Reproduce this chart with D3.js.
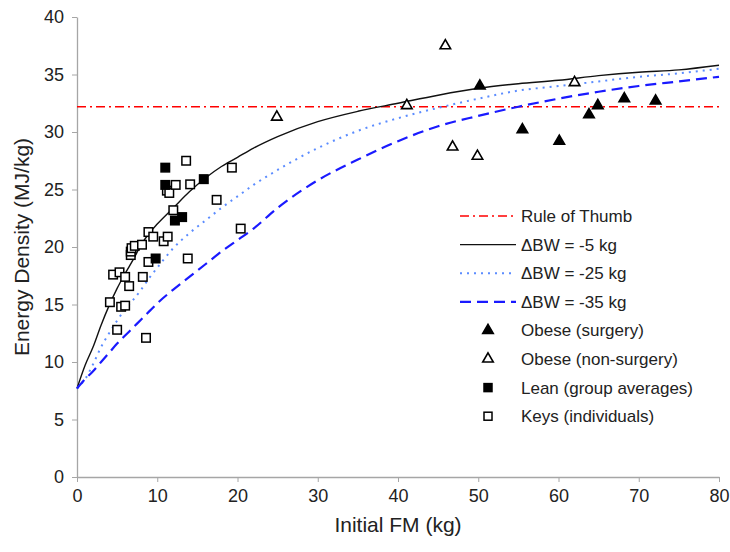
<!DOCTYPE html>
<html>
<head>
<meta charset="utf-8">
<script src="https://cdn.jsdelivr.net/npm/d3@7"></script>
<style>
  body { margin: 0; background: #fff; }
  svg { font-family: "Liberation Sans", Arial, sans-serif; }
</style>
</head>
<body>
<svg width="730" height="552"></svg>
<script>
// curves: energy density of lost tissue vs initial fat mass
const fm =    [0, 1, 2, 3, 4, 5, 6, 7, 8, 9, 10, 12, 14, 16, 18, 20, 22, 25, 30, 35, 40, 45, 50, 55, 60, 65, 70, 75, 80];
const bw5 =   [7.7, 9.7, 11.3, 13.2, 14.9, 16.4, 17.7, 18.9, 20.2, 21.2, 22.0, 23.4, 24.8, 26.0, 27.0, 27.8, 28.6, 29.6, 30.9, 31.8, 32.5, 33.2, 33.8, 34.2, 34.5, 34.9, 35.2, 35.4, 35.8];
const bw25 =  [7.7, 8.5, 9.8, 11.3, 12.5, 13.6, 14.6, 15.4, 16.3, 17.3, 18.2, 19.9, 21.2, 22.3, 23.4, 24.4, 25.4, 26.7, 28.6, 30.1, 31.2, 32.1, 32.9, 33.6, 34.0, 34.4, 34.8, 35.1, 35.5];
const bw35 =  [7.7, 8.5, 9.2, 10.0, 10.8, 11.6, 12.3, 13.0, 13.7, 14.4, 15.1, 16.3, 17.4, 18.5, 19.6, 20.6, 21.6, 23.4, 25.8, 27.6, 29.2, 30.5, 31.4, 32.2, 32.9, 33.5, 34.0, 34.4, 34.8];
const ruleOfThumb = 32.2;

// observations [FM, energy density]
const obeseSurgery = [[50.2, 34.0], [55.5, 30.2], [60.1, 29.2], [63.8, 31.5], [64.9, 32.3], [68.2, 32.9], [72.1, 32.7]];
const obeseNonSurgery = [[24.9, 31.3], [41.1, 32.3], [45.9, 37.5], [46.8, 28.7], [49.9, 27.9], [62.0, 34.3]];
const lean = [[9.8, 19.0], [11.0, 26.9], [11.0, 25.4], [12.2, 22.3], [13.1, 22.6], [15.8, 25.9]];
const keys = [[4.1, 15.2], [4.5, 17.6], [5.0, 12.8], [5.3, 17.8], [5.5, 14.8], [6.0, 14.9], [6.0, 17.4],
  [6.5, 16.6], [6.7, 19.3], [6.7, 19.6], [6.8, 19.9], [7.2, 20.1], [8.1, 20.2], [8.2, 17.4], [8.6, 12.1],
  [8.9, 18.7], [8.9, 21.3], [9.5, 20.9], [10.8, 20.5], [11.3, 20.9], [11.2, 24.9], [11.5, 24.7],
  [12.0, 23.2], [12.3, 25.4], [13.6, 27.5], [13.8, 19.0], [14.1, 25.45], [17.4, 24.1], [19.3, 26.9], [20.4, 21.6]];

const xTicks = [0, 10, 20, 30, 40, 50, 60, 70, 80];
const yTicks = [0, 5, 10, 15, 20, 25, 30, 35, 40];

const svg = d3.select("svg");
const margin = {top: 17, right: 11, bottom: 75, left: 77};
const width = 730 - margin.left - margin.right;
const height = 552 - margin.top - margin.bottom;

const x = d3.scaleLinear().domain([0, 80]).range([margin.left, margin.left + width]);
const y = d3.scaleLinear().domain([0, 40]).range([margin.top + height, margin.top]);

const axisColor = "#a6a6a6";

// axes
const xAxis = svg.append("g")
  .attr("transform", "translate(0," + (margin.top + height) + ")")
  .call(d3.axisBottom(x).tickValues(xTicks).tickSize(5).tickPadding(7).tickSizeOuter(0));
const yAxis = svg.append("g")
  .attr("transform", "translate(" + margin.left + ",0)")
  .call(d3.axisLeft(y).tickValues(yTicks).tickSize(5).tickPadding(8).tickSizeOuter(0));
[xAxis, yAxis].forEach(function(a) {
  a.select(".domain").attr("stroke", axisColor).attr("stroke-width", 1.3);
  a.selectAll(".tick line").attr("stroke", axisColor);
  a.selectAll(".tick text").attr("fill", "#222").attr("font-size", "18px")
    .attr("font-family", "Liberation Sans, Arial, sans-serif");
});

svg.append("text")
  .attr("x", x(40)).attr("y", 532)
  .attr("text-anchor", "middle")
  .attr("font-size", "21px").attr("fill", "#222")
  .text("Initial FM (kg)");
svg.append("text")
  .attr("transform", "translate(29," + y(20) + ") rotate(-90)")
  .attr("text-anchor", "middle")
  .attr("font-size", "21px").attr("fill", "#222")
  .text("Energy Density (MJ/kg)");

// rule of thumb
svg.append("line")
  .attr("x1", x(0)).attr("x2", x(80))
  .attr("y1", y(ruleOfThumb)).attr("y2", y(ruleOfThumb))
  .attr("stroke", "#ff0000").attr("stroke-width", 1.5)
  .attr("stroke-dasharray", "9,4,2,4");

const line = d3.line()
  .x(function(d) { return x(d[0]); })
  .y(function(d) { return y(d[1]); })
  .curve(d3.curveMonotoneX);

const curves = [
  {name: "\u0394BW = -5 kg",  vals: bw5,  color: "#111", width: 1.4, dash: null},
  {name: "\u0394BW = -25 kg", vals: bw25, color: "#5b8cff", width: 2, dash: "2,5"},
  {name: "\u0394BW = -35 kg", vals: bw35, color: "#1a1aff", width: 2.2, dash: "11,6"}
];

curves.forEach(function(c) {
  svg.append("path")
    .datum(fm.map(function(f, i) { return [f, c.vals[i]]; }))
    .attr("d", line)
    .attr("fill", "none")
    .attr("stroke", c.color)
    .attr("stroke-width", c.width)
    .attr("stroke-dasharray", c.dash);
});

// markers
const tri = d3.symbol().type(d3.symbolTriangle).size(48);
const sq = 8.5;

function triangles(data, filled) {
  svg.append("g").selectAll("path")
    .data(data)
    .enter().append("path")
    .attr("d", tri)
    .attr("transform", function(d) { return "translate(" + x(d[0]) + "," + y(d[1]) + ")"; })
    .attr("fill", filled ? "#000" : "#fff")
    .attr("stroke", "#000")
    .attr("stroke-width", 1.6);
}
function squares(data, filled) {
  svg.append("g").selectAll("rect")
    .data(data)
    .enter().append("rect")
    .attr("x", function(d) { return x(d[0]) - sq / 2; })
    .attr("y", function(d) { return y(d[1]) - sq / 2; })
    .attr("width", sq).attr("height", sq)
    .attr("fill", filled ? "#000" : "#fff")
    .attr("stroke", "#000")
    .attr("stroke-width", 1.5);
}
squares(keys, false);
squares(lean, true);
triangles(obeseNonSurgery, false);
triangles(obeseSurgery, true);

// legend
const lgX = 460, lgY = 216, lgStep = 28.6, txtX = 521;
const lg = svg.append("g");
const lineItems = [
  {name: "Rule of Thumb", color: "#ff0000", width: 1.5, dash: "9,4,2,4"}
].concat(curves);
lineItems.forEach(function(d, i) {
  const yy = lgY + i * lgStep;
  lg.append("line")
    .attr("x1", lgX).attr("x2", lgX + 56)
    .attr("y1", yy).attr("y2", yy)
    .attr("stroke", d.color).attr("stroke-width", d.width)
    .attr("stroke-dasharray", d.dash);
  lg.append("text")
    .attr("x", txtX).attr("y", yy).attr("dy", "0.35em")
    .attr("font-size", "17px").attr("fill", "#222")
    .text(d.name);
});
const markerItems = [
  {name: "Obese (surgery)", kind: "tri", filled: true},
  {name: "Obese (non-surgery)", kind: "tri", filled: false},
  {name: "Lean (group averages)", kind: "sq", filled: true},
  {name: "Keys (individuals)", kind: "sq", filled: false}
];
markerItems.forEach(function(d, i) {
  const yy = lgY + (i + 4) * lgStep;
  if (d.kind === "tri") {
    lg.append("path").attr("d", tri)
      .attr("transform", "translate(488," + yy + ")")
      .attr("fill", d.filled ? "#000" : "#fff")
      .attr("stroke", "#000").attr("stroke-width", 1.6);
  } else {
    lg.append("rect")
      .attr("x", 488 - 4).attr("y", yy - 4).attr("width", 8).attr("height", 8)
      .attr("fill", d.filled ? "#000" : "#fff")
      .attr("stroke", "#000").attr("stroke-width", 1.5);
  }
  lg.append("text")
    .attr("x", txtX).attr("y", yy).attr("dy", "0.35em")
    .attr("font-size", "17px").attr("fill", "#222")
    .text(d.name);
});
</script>
</body>
</html>
